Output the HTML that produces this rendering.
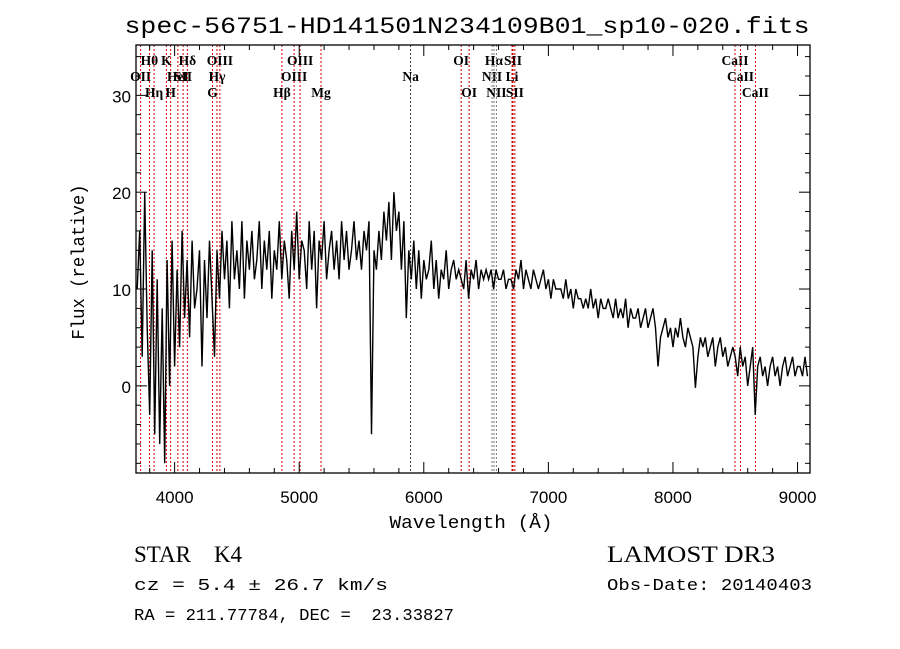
<!DOCTYPE html>
<html><head><meta charset="utf-8"><style>
body{margin:0;background:#fff}
svg{display:block}
</style></head><body>
<svg id="chart" width="900" height="649" xmlns="http://www.w3.org/2000/svg">
<rect width="900" height="649" fill="#fff"/>
<text x="467" y="33" text-anchor="middle" font-family="Liberation Mono, monospace" font-size="23" textLength="685" lengthAdjust="spacingAndGlyphs">spec-56751-HD141501N234109B01_sp10-020.fits</text>
<g id="lines"></g>
<g id="spec"></g>
<g id="axes"></g>
<text x="471" y="528" text-anchor="middle" font-family="Liberation Mono, monospace" font-size="18" textLength="163" lengthAdjust="spacingAndGlyphs">Wavelength (Å)</text>
<text transform="translate(84,262) rotate(-90)" text-anchor="middle" font-family="Liberation Mono, monospace" font-size="18" textLength="155" lengthAdjust="spacingAndGlyphs">Flux (relative)</text>
<text x="134" y="562" font-family="Liberation Serif, serif" font-size="23" xml:space="preserve">STAR    K4</text>
<text x="607" y="562" font-family="Liberation Serif, serif" font-size="23" textLength="168" lengthAdjust="spacingAndGlyphs">LAMOST DR3</text>
<text x="134" y="590" font-family="Liberation Mono, monospace" font-size="17" textLength="254" lengthAdjust="spacingAndGlyphs">cz = 5.4 ± 26.7 km/s</text>
<text x="607" y="590" font-family="Liberation Mono, monospace" font-size="17" textLength="205" lengthAdjust="spacingAndGlyphs">Obs-Date: 20140403</text>
<text x="134" y="620" font-family="Liberation Mono, monospace" font-size="17" xml:space="preserve" textLength="320" lengthAdjust="spacingAndGlyphs">RA = 211.77784, DEC =  23.33827</text>
</svg>
<script>
const startWave = 3700;
const stepWave = 20;
const flux = [
10,16,3,20,6,-3,14,-5,11,-6,
8,-8,13,0,15,2,12,4,16,7,
13,5,15,8,10,14,2,13,7,15,
9,3,14,9,16,11,15,8,17,11,
14,10,17,9,15,12,16,11,13,17,
10,15,12,16,9,14,12,17,11,15,
13,9,16,12,18,11,15,14,10,17,
12,16,8,15,13,17,11,14,16,12,
15,11,17,13,16,12,14,17,13,15,
12,16,14,17,-5,14,12,16,13,18,
15,19,13,20,16,18,12,17,7,14,
11,15,10,14,9,13,11,12,15,10,
13,9,12,11,14,10,12,13,11,12,
11,10,13,9,12,11,13,10,12,11,
12,11,12,10,12,11,11,12,10,11,
11,10,12,11,13,10,12,11,10,12,
11,10,11,12,10,11,9,11,10,10,
10,9,11,9,10,8,10,9,9,8,
9,8,10,8,9,7,9,8,8,9,
8,7,9,7,8,7,9,6,8,7,
7,8,6,7,8,6,7,8,6,2,
5,6,7,5,6,4,6,5,7,5,
4,6,5,4,-0.2,3,5,4,5,3,
4,5,2,4,5,3,4,2,3,4,
3,1,4,2,3,0,2,4,-3,2,
3,1,2,0,2,3,1,2,0,2,
3,1,2,3,1,2,2,1,3,1
];
const lineNames = ["OII","Hθ","Hη","K","H","HeI","SII","Hδ","G","Hγ","OIII","Hβ","OIII","OIII","Mg","Na","OI","OI","NII","Hα","NII","Li","SII","SII","CaII","CaII","CaII"];
const lineWaves = [3727,3798,3835,3934,3968,4026,4068,4102,4304,4340,4363,4861,4959,5007,5175,5894,6300,6364,6548,6563,6583,6708,6716,6731,8498,8542,8662];
const lineRows = [1,0,2,0,2,1,1,0,2,1,0,2,1,0,2,1,0,2,1,0,2,1,0,2,0,1,2];
const xTicks = [4000,5000,6000,7000,8000,9000];
const yTicks = [0,10,20,30];

const L=136,R=810,T=45,B=473, W0=3690,W1=9100, F0=-9,F1=35.2;
const xs = w => L+(w-W0)/(W1-W0)*(R-L);
const ys = f => B-(f-F0)/(F1-F0)*(B-T);
const NS="http://www.w3.org/2000/svg";
function mk(tag,attrs,parent){const e=document.createElementNS(NS,tag);for(const k in attrs)e.setAttribute(k,attrs[k]);parent.appendChild(e);return e;}

const gl=document.getElementById('lines');
lineWaves.forEach((w,i)=>{
  const x=xs(w);
  const black = lineNames[i]==="Na";
  const gray = (w>=6540&&w<=6590);
  const ln=mk('line',{x1:x,x2:x,y1:T,y2:B,stroke:black?'#333':(gray?'#777':'#c00'),'stroke-width':1,'stroke-dasharray':'2,2'},gl);
  
  
  const t=mk('text',{x:x,y:65+lineRows[i]*16,'text-anchor':'middle','font-family':'Liberation Serif, serif','font-size':13.5,'font-weight':'bold'},gl);
  t.textContent=lineNames[i];
  
  
});

const gs=document.getElementById('spec');
let d='';
flux.forEach((f,i)=>{const x=xs(startWave+i*stepWave),y=ys(f);d+=(i?'L':'M')+x.toFixed(1)+','+y.toFixed(1);});
const p=mk('path',{d:d,fill:'none',stroke:'#000','stroke-width':1.4},gs);



const ga=document.getElementById('axes');
const fr=mk('rect',{x:L,y:T,width:R-L,height:B-T,fill:'none',stroke:'#000','stroke-width':1.3},ga);


for(let w=3800;w<=9100;w+=200){const x=xs(w);const maj=w%1000===0;
  mk('line',{x1:x,x2:x,y1:B,y2:B-(maj?11:5),stroke:'#000'},ga);
  mk('line',{x1:x,x2:x,y1:T,y2:T+(maj?11:5),stroke:'#000'},ga);}
for(let f=-8;f<=35;f+=2){const y=ys(f);const maj=f%10===0;
  mk('line',{x1:L,x2:L+(maj?11:5),y1:y,y2:y,stroke:'#000'},ga);
  mk('line',{x1:R,x2:R-(maj?11:5),y1:y,y2:y,stroke:'#000'},ga);}
xTicks.forEach(w=>{const t=mk('text',{x:xs(w),y:503,'text-anchor':'middle','font-family':'Liberation Sans, sans-serif','font-size':17},ga);t.textContent=w;
  
  });
yTicks.forEach(f=>{const t=mk('text',{x:131,y:ys(f)+7,'text-anchor':'end','font-family':'Liberation Sans, sans-serif','font-size':17},ga);t.textContent=f;
  
  });
</script>
</body></html>
